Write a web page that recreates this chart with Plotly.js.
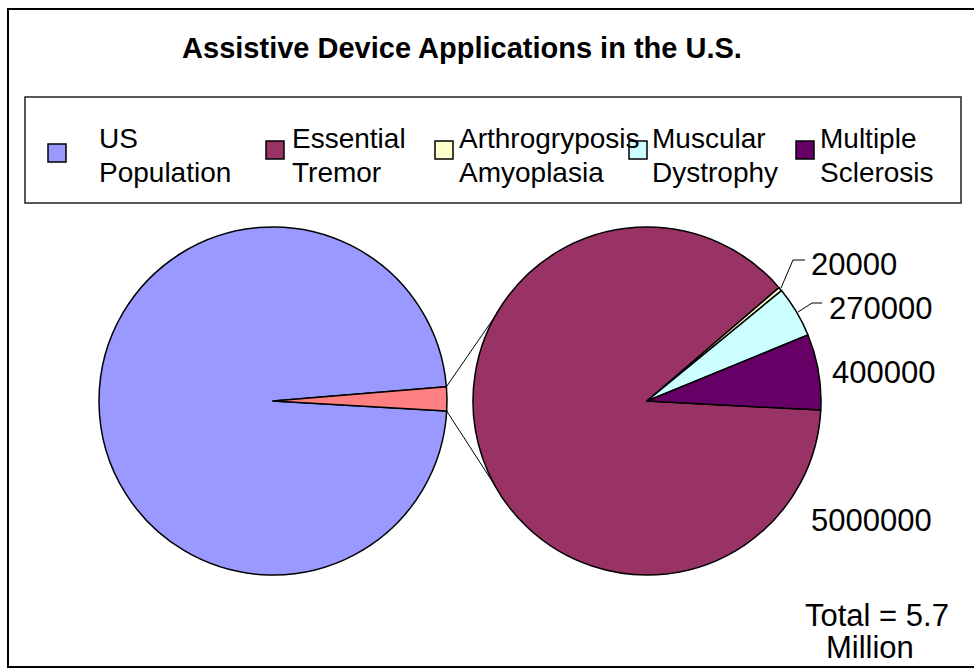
<!DOCTYPE html>
<html><head><meta charset="utf-8">
<script src="https://cdn.plot.ly/plotly-3.0.1.min.js"></script>
<style>html,body{margin:0;padding:0;background:#fff}#chart{width:974px;height:670px}</style>
</head><body><div id="chart"></div>
<script>
// ---- data ----
const chartTitle = "Assistive Device Applications in the U.S.";
const mainLabels = ["US Population", "Other"];
const usPopulation = 250000000;
const conditionLabels = ["Essential Tremor", "Arthrogryposis Amyoplasia", "Muscular Dystrophy", "Multiple Sclerosis"];
const conditionValues = [5000000, 20000, 270000, 400000];
const legendLabels = ["US Population", "Essential Tremor", "Arthrogryposis Amyoplasia", "Muscular Dystrophy", "Multiple Sclerosis"];
const totalNote = ["Total = 5.7", "Million"];

// ---- styles ----
const colors = {
  "US Population": "#9999FF",
  "Other": "#FF8080",
  "Essential Tremor": "#993366",
  "Arthrogryposis Amyoplasia": "#FFFFCC",
  "Muscular Dystrophy": "#CCFFFF",
  "Multiple Sclerosis": "#660066"
};
const FONT = "Liberation Sans, Arial, sans-serif";
const W = 974, H = 670;
const px = x => x / W;
const py = y => 1 - y / H;

// geometry (pixels)
const R = 174, CY = 401, CX1 = 273, CX2 = 647;
const ROT1 = 93.3, ROT2 = 93;

const otherValue = conditionValues.reduce((a, b) => a + b, 0);
const mainValues = [usPopulation, otherValue];

function domainFor(cx) {
  return { x: [px(cx - R), px(cx + R)], y: [py(CY + R), py(CY - R)] };
}

const traces = [
  {
    type: "pie", labels: mainLabels, values: mainValues, sort: false,
    direction: "clockwise", rotation: ROT1, textinfo: "none", hoverinfo: "label+value",
    marker: { colors: mainLabels.map(l => colors[l]), line: { color: "#000", width: 1.5 } },
    domain: domainFor(CX1), showlegend: false
  },
  {
    type: "pie", labels: conditionLabels, values: conditionValues, sort: false,
    direction: "clockwise", rotation: ROT2, textinfo: "none", hoverinfo: "label+value",
    marker: { colors: conditionLabels.map(l => colors[l]), line: { color: "#000", width: 1.5 } },
    domain: domainFor(CX2), showlegend: false
  }
];

const shapes = [];
const annotations = [];

// outer border
shapes.push({ type: "rect", xref: "paper", yref: "paper", x0: px(8), y0: py(9), x1: px(990), y1: py(667),
  line: { color: "#000", width: 2 }, fillcolor: "rgba(0,0,0,0)" });
// legend box
shapes.push({ type: "rect", xref: "paper", yref: "paper", x0: px(25), y0: py(97), x1: px(961), y1: py(203),
  line: { color: "#222", width: 1.5 }, fillcolor: "rgba(0,0,0,0)" });

// legend entries
const legSwatchX = [48, 266, 435, 629, 796];
const legSwatchY = [153, 150, 150, 150, 150];
const legTextX = [97, 290, 457, 650, 818];
legendLabels.forEach((lab, i) => {
  const sx = legSwatchX[i], sy = legSwatchY[i];
  shapes.push({ type: "rect", xref: "paper", yref: "paper", x0: px(sx), x1: px(sx + 18), y0: py(sy + 9), y1: py(sy - 9),
    line: { color: "#000", width: 1.5 }, fillcolor: colors[lab] });
  const parts = lab.split(" ");
  [parts[0], parts.slice(1).join(" ")].forEach((t, j) => {
    annotations.push({ xref: "paper", yref: "paper", x: px(legTextX[i]), y: py(j === 0 ? 138 : 172),
      xanchor: "left", yanchor: "middle", showarrow: false, text: t,
      font: { family: FONT, size: 28, color: "#000" } });
  });
});

// connector lines between the pies (from the edges of the "Other" slice)
const otherDeg = 360 * otherValue / (usPopulation + otherValue);
const a0 = (90 - ROT1) * Math.PI / 180;            // lower edge of slice (math angle)
const a1 = a0 + otherDeg * Math.PI / 180;           // upper edge
const tang = 151 * Math.PI / 180;
[[a1, tang], [a0, -tang]].forEach(([aL, aR]) => {
  shapes.push({ type: "line", xref: "paper", yref: "paper",
    x0: px(CX1 + R * Math.cos(aL)), y0: py(CY - R * Math.sin(aL)),
    x1: px(CX2 + R * Math.cos(aR)), y1: py(CY - R * Math.sin(aR)),
    line: { color: "#000", width: 1 } });
});

// value labels
const valLabelPos = [[809, 520], [809, 264], [827, 309], [830, 372]];
conditionValues.forEach((v, i) => {
  annotations.push({ xref: "paper", yref: "paper", x: px(valLabelPos[i][0]), y: py(valLabelPos[i][1]),
    xanchor: "left", yanchor: "middle", showarrow: false, text: String(v),
    font: { family: FONT, size: 31, color: "#000" } });
});
// leader lines for the two small slices
const leaders = [
  [[781, 288], [793, 260], [805, 260]],
  [[798, 312], [812, 303], [822, 303]]
];
leaders.forEach(pts => {
  const path = "M " + pts.map(p => px(p[0]) + "," + py(p[1])).join(" L ");
  shapes.push({ type: "path", xref: "paper", yref: "paper", path: path, line: { color: "#000", width: 1 } });
});

// total note
annotations.push({ xref: "paper", yref: "paper", x: px(877), y: py(615), xanchor: "center", yanchor: "middle",
  showarrow: false, text: totalNote[0], font: { family: FONT, size: 31, color: "#000" } });
annotations.push({ xref: "paper", yref: "paper", x: px(870), y: py(647), xanchor: "center", yanchor: "middle",
  showarrow: false, text: totalNote[1], font: { family: FONT, size: 31, color: "#000" } });

const layout = {
  width: W, height: H,
  margin: { l: 0, r: 0, t: 0, b: 0 },
  paper_bgcolor: "#fff", plot_bgcolor: "#fff",
  title: { text: "<b>" + chartTitle + "</b>", x: px(462), y: py(48), xanchor: "center", yanchor: "middle",
    xref: "paper", yref: "paper", font: { family: FONT, size: 29, color: "#000" } },
  showlegend: false,
  shapes: shapes,
  annotations: annotations
};

Plotly.newPlot("chart", traces, layout, { displayModeBar: false, staticPlot: true });
</script>
</body></html>
